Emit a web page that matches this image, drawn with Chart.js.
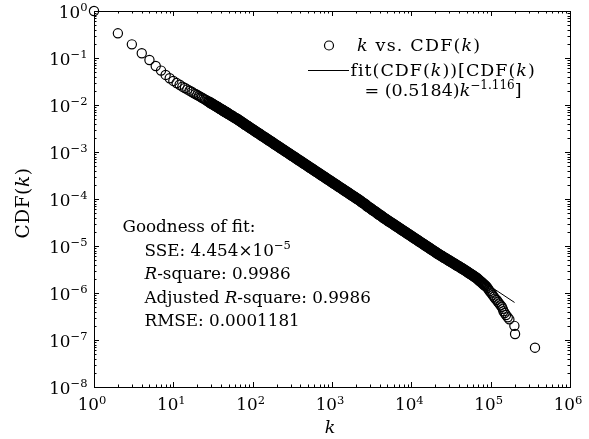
<!DOCTYPE html>
<html>
<head>
<meta charset="utf-8">
<script src="https://cdn.jsdelivr.net/npm/chart.js@4.4.1/dist/chart.umd.min.js"></script>
<style>
  html, body { margin: 0; padding: 0; background: #fff; }
  #wrap { width: 589px; height: 439px; }
</style>
</head>
<body>
<div id="wrap"><canvas id="cdfChart"></canvas></div>
<script>
// Degree k and complementary CDF, lowest degrees first
const headK = [1, 2, 3, 4, 5, 6, 7, 8, 9];
const headCdf = [1, 0.335, 0.195, 0.126, 0.0906, 0.0676, 0.054, 0.0436, 0.037];

const lowK = [10, 11, 12, 13, 14, 15, 16, 17, 18, 19, 20, 21, 22, 23, 24, 25, 26, 27, 28, 29,
  30, 31, 32, 33, 34, 35, 36, 37, 38, 39, 40, 41, 42, 43, 44, 45, 46, 47, 48, 49, 50,
  52, 54, 56, 58, 60];
const lowCdf = [0.0326, 0.0293, 0.0269, 0.0246, 0.02295, 0.0215, 0.0202, 0.0191, 0.0179, 0.0171,
  0.0163, 0.01563, 0.01484, 0.01429, 0.01363, 0.01317, 0.01261, 0.01209, 0.01174, 0.01129,
  0.01087, 0.0106, 0.01023, 0.00989, 0.00956, 0.00936, 0.00908, 0.0088, 0.00854, 0.0083,
  0.00816, 0.00794, 0.00773, 0.00753, 0.00734, 0.00716, 0.00706, 0.0069, 0.00674, 0.00658, 0.00644,
  0.00616, 0.00598, 0.00574, 0.00552, 0.00531];

const bandK = [62, 64, 66, 68, 70, 72, 74, 77, 79, 81,
  84, 87, 89, 92, 95, 98, 101, 104, 107, 111,
  114, 118, 122, 125, 129, 133, 138, 142, 146, 151,
  156, 160, 166, 171, 176, 182, 187, 193, 199, 205,
  212, 219, 225, 232, 240, 247, 255, 263, 271, 280,
  288, 297, 307, 316, 326, 337, 347, 358, 369, 381,
  393, 405, 418, 431, 444, 458, 473, 487, 503, 518,
  535, 551, 569, 586, 605, 624, 643, 664, 684, 706,
  728, 751, 774, 798, 823, 849, 876, 903, 932, 961,
  991, 1022, 1054, 1087, 1121, 1156, 1192, 1229, 1268, 1308,
  1349, 1391, 1435, 1480, 1527, 1574, 1624, 1674, 1727, 1781,
  1837, 1894, 1954, 2015, 2078, 2143, 2210, 2280, 2351, 2425,
  2501, 2578, 2660, 2743, 2829, 2918, 3009, 3103, 3200, 3301,
  3404, 3511, 3621, 3734, 3851, 3972, 4097, 4225, 4357, 4494,
  4635, 4779, 4930, 5085, 5243, 5408, 5577, 5751, 5932, 6118,
  6310, 6508, 6712, 6921, 7138, 7362, 7593, 7831, 8076, 8330,
  8591, 8860, 9137, 9424, 9719, 10023, 10336, 10665, 10991, 11340,
  11696, 12059, 12439, 12828, 13230, 13645, 14077, 14511, 14972, 15441,
  15924, 16425, 16934, 17468, 18015, 18578, 19158, 19761, 20382, 21017,
  21680, 22359, 23058, 23781, 24528, 25294, 26084, 26908, 27745, 28616,
  29510, 30438, 31390, 32375, 33387, 34433, 35513, 36629, 37776, 38955,
  40182, 41443, 42739, 44078, 45460, 46879, 48353, 49869, 51433, 53041,
  54700, 56413, 58183, 60012, 61890, 63835, 65830, 67893, 70017, 72209,
  74476, 76810, 79213, 81698, 84261];
const bandCdf = [5.188e-3, 5.012e-3, 4.842e-3, 4.677e-3, 4.519e-3, 4.365e-3, 4.217e-3, 4.074e-3, 3.936e-3, 3.802e-3,
  3.673e-3, 3.548e-3, 3.428e-3, 3.311e-3, 3.199e-3, 3.090e-3, 2.985e-3, 2.884e-3, 2.786e-3, 2.692e-3,
  2.600e-3, 2.512e-3, 2.427e-3, 2.344e-3, 2.265e-3, 2.188e-3, 2.113e-3, 2.042e-3, 1.972e-3, 1.905e-3,
  1.841e-3, 1.778e-3, 1.718e-3, 1.660e-3, 1.603e-3, 1.549e-3, 1.496e-3, 1.445e-3, 1.396e-3, 1.349e-3,
  1.303e-3, 1.259e-3, 1.216e-3, 1.175e-3, 1.135e-3, 1.096e-3, 1.059e-3, 1.023e-3, 9.886e-4, 9.550e-4,
  9.226e-4, 8.913e-4, 8.610e-4, 8.318e-4, 8.035e-4, 7.762e-4, 7.499e-4, 7.244e-4, 6.998e-4, 6.761e-4,
  6.531e-4, 6.310e-4, 6.095e-4, 5.888e-4, 5.689e-4, 5.495e-4, 5.309e-4, 5.129e-4, 4.955e-4, 4.786e-4,
  4.624e-4, 4.467e-4, 4.315e-4, 4.169e-4, 4.027e-4, 3.890e-4, 3.758e-4, 3.631e-4, 3.508e-4, 3.388e-4,
  3.273e-4, 3.162e-4, 3.055e-4, 2.951e-4, 2.851e-4, 2.754e-4, 2.661e-4, 2.570e-4, 2.483e-4, 2.399e-4,
  2.317e-4, 2.239e-4, 2.163e-4, 2.089e-4, 2.018e-4, 1.950e-4, 1.884e-4, 1.820e-4, 1.758e-4, 1.698e-4,
  1.641e-4, 1.585e-4, 1.531e-4, 1.479e-4, 1.429e-4, 1.380e-4, 1.334e-4, 1.288e-4, 1.245e-4, 1.202e-4,
  1.161e-4, 1.122e-4, 1.084e-4, 1.047e-4, 1.012e-4, 9.772e-5, 9.441e-5, 9.120e-5, 8.710e-5, 8.414e-5,
  8.128e-5, 7.852e-5, 7.586e-5, 7.161e-5, 6.918e-5, 6.683e-5, 6.457e-5, 6.237e-5, 5.957e-5, 5.754e-5,
  5.559e-5, 5.370e-5, 5.188e-5, 4.955e-5, 4.786e-5, 4.624e-5, 4.467e-5, 4.315e-5, 4.121e-5, 3.981e-5,
  3.846e-5, 3.715e-5, 3.589e-5, 3.428e-5, 3.350e-5, 3.236e-5, 3.126e-5, 3.020e-5, 2.917e-5, 2.818e-5,
  2.723e-5, 2.630e-5, 2.541e-5, 2.455e-5, 2.371e-5, 2.291e-5, 2.213e-5, 2.138e-5, 2.065e-5, 1.995e-5,
  1.928e-5, 1.862e-5, 1.799e-5, 1.738e-5, 1.679e-5, 1.622e-5, 1.567e-5, 1.514e-5, 1.462e-5, 1.413e-5,
  1.365e-5, 1.318e-5, 1.274e-5, 1.230e-5, 1.189e-5, 1.148e-5, 1.109e-5, 1.072e-5, 1.035e-5, 1.000e-5,
  9.661e-6, 9.333e-6, 9.016e-6, 8.710e-6, 8.414e-6, 8.128e-6, 7.852e-6, 7.586e-6, 7.328e-6, 7.079e-6,
  6.839e-6, 6.607e-6, 6.383e-6, 6.237e-6, 6.026e-6, 5.821e-6, 5.623e-6, 5.495e-6, 5.309e-6, 5.129e-6,
  4.955e-6, 4.842e-6, 4.677e-6, 4.519e-6, 4.365e-6, 4.266e-6, 4.121e-6, 3.981e-6, 3.846e-6, 3.758e-6,
  3.631e-6, 3.508e-6, 3.388e-6, 3.311e-6, 3.199e-6, 3.090e-6, 2.985e-6, 2.884e-6, 2.786e-6, 2.692e-6,
  2.600e-6, 2.512e-6, 2.427e-6, 2.344e-6, 2.265e-6, 2.188e-6, 2.113e-6, 2.018e-6, 1.928e-6, 1.841e-6,
  1.758e-6, 1.679e-6, 1.603e-6, 1.531e-6, 1.462e-6];

const tailK = [87000, 89000, 91500, 94000, 97000, 100000, 103000, 106000, 110000, 114000,
  119000, 123000, 128000, 133000, 138000, 142000, 145000, 150000, 156000, 164000,
  172000, 199000, 203000, 362000];
const tailCdf = [1.40e-6, 1.36e-6, 1.27e-6, 1.19e-6, 1.10e-6, 1.03e-6, 9.8e-7, 9.0e-7, 8.3e-7, 7.6e-7,
  7.1e-7, 6.5e-7, 6.0e-7, 5.5e-7, 5.1e-7, 4.6e-7, 4.1e-7, 3.75e-7, 3.4e-7, 3.05e-7,
  2.75e-7, 2.0e-7, 1.34e-7, 6.86e-8];

// Power-law fit CDF(k) = a * k^b over the fitted degree range
const fitA = 0.5184;
const fitB = -1.116;
const fitRange = [20, 200000];

const xDecades = [0, 1, 2, 3, 4, 5, 6];
const yDecades = [-8, -7, -6, -5, -4, -3, -2, -1, 0];

const gofLines = [
  [['Goodness of fit:', '']],
  [['SSE: 4.454\u00d710', ''], ['\u22125', 's']],
  [['R', 'i'], ['-square: 0.9986', '']],
  [['Adjusted ', ''], ['R', 'i'], ['-square: 0.9986', '']],
  [['RMSE: 0.0001181', '']]
];

const FONT = '"DejaVu Serif", serif';
const FS = 16.8;

function fontFor(style, size) {
  if (style === 'i') return 'italic ' + size + 'px ' + FONT;
  if (style === 's') return (size * 0.685).toFixed(1) + 'px ' + FONT;
  return size + 'px ' + FONT;
}

// Draws a run of text pieces (plain, italic, superscript) on one baseline
function drawRich(ctx, parts, x, y, align, size, spacing) {
  size = size || FS;
  ctx.letterSpacing = (spacing || 0) + 'px';
  const widths = parts.map(p => { ctx.font = fontFor(p[1], size); return ctx.measureText(p[0]).width; });
  const total = widths.reduce((s, w) => s + w, 0);
  let cx = align === 'center' ? x - total / 2 : align === 'right' ? x - total : x;
  ctx.textAlign = 'left';
  ctx.textBaseline = 'alphabetic';
  parts.forEach((p, i) => {
    ctx.font = fontFor(p[1], size);
    ctx.fillText(p[0], cx, p[1] === 's' ? y - size * 0.36 : y);
    cx += widths[i];
  });
  ctx.letterSpacing = '0px';
}

function powLabel(n) {
  return [['10', ''], [String(n).replace('-', '\u2212'), 's']];
}

const frameAndText = {
  id: 'frameAndText',
  afterDraw(chart) {
    const { ctx, chartArea: a } = chart;
    const xs = chart.scales.x, ys = chart.scales.y;
    ctx.save();
    ctx.strokeStyle = '#000';
    ctx.fillStyle = '#000';
    ctx.lineWidth = 1;
    ctx.strokeRect(a.left + 0.5, a.top + 0.5, a.right - a.left, a.bottom - a.top);

    // inward ticks on all four sides
    ctx.beginPath();
    xDecades.forEach(n => {
      for (let m = 1; m <= 9; m++) {
        if (m > 1 && n === xDecades[xDecades.length - 1]) break;
        const px = Math.round(xs.getPixelForValue(m * Math.pow(10, n))) + 0.5;
        const len = m === 1 ? 5 : 2.5;
        ctx.moveTo(px, a.bottom); ctx.lineTo(px, a.bottom - len);
        ctx.moveTo(px, a.top); ctx.lineTo(px, a.top + len);
      }
    });
    yDecades.forEach(n => {
      for (let m = 1; m <= 9; m++) {
        if (m > 1 && n === yDecades[yDecades.length - 1]) break;
        const py = Math.round(ys.getPixelForValue(m * Math.pow(10, n))) + 0.5;
        const len = m === 1 ? 5 : 2.5;
        ctx.moveTo(a.left, py); ctx.lineTo(a.left + len, py);
        ctx.moveTo(a.right, py); ctx.lineTo(a.right - len, py);
      }
    });
    ctx.stroke();

    // tick labels
    xDecades.forEach(n => {
      drawRich(ctx, powLabel(n), xs.getPixelForValue(Math.pow(10, n)) - 2, a.bottom + 23, 'center');
    });
    yDecades.forEach(n => {
      drawRich(ctx, powLabel(n), a.left - 6.5, ys.getPixelForValue(Math.pow(10, n)) + 6.5, 'right');
    });

    // axis titles
    drawRich(ctx, [['k', 'i']], 330, 433, 'center', 17.5);
    ctx.save();
    ctx.translate(29, 203);
    ctx.rotate(-Math.PI / 2);
    drawRich(ctx, [['CDF(', ''], ['k', 'i'], [')', '']], 0, 0, 'center', 18.5, 0.6);
    ctx.restore();

    // legend
    ctx.lineWidth = 1.2;
    ctx.beginPath();
    ctx.arc(329, 45.5, 4.5, 0, Math.PI * 2);
    ctx.stroke();
    drawRich(ctx, [['k', 'i'], [' vs. CDF(', ''], ['k', 'i'], [')', '']], 357, 50.5, 'left', 17.5, 1.2);
    ctx.lineWidth = 1;
    ctx.beginPath();
    ctx.moveTo(308, 70.5); ctx.lineTo(349, 70.5);
    ctx.stroke();
    drawRich(ctx, [['fit(CDF(', ''], ['k', 'i'], ['))[CDF(', ''], ['k', 'i'], [')', '']], 350.5, 76, 'left', 17.5, 1);
    drawRich(ctx, [['= (0.5184)', ''], ['k', 'i'], ['\u22121.116', 's'], [']', '']], 443, 95.5, 'center', 17.5);

    // goodness of fit block
    const gofY = [232, 255.5, 279, 302.5, 326];
    gofLines.forEach((line, i) => drawRich(ctx, line, i === 0 ? 122.5 : 144.5, gofY[i], 'left'));
    ctx.restore();
  }
};

const allK = headK.concat(lowK, bandK, tailK);
const allCdf = headCdf.concat(lowCdf, bandCdf, tailCdf);
const points = allK.map((k, i) => ({ x: k, y: allCdf[i] }));
const fitLine = fitRange.map(k => ({ x: k, y: fitA * Math.pow(k, fitB) }));

// where the markers pile up into a solid band, a heavier outline keeps it filled
function markerLine(c) {
  const k = c.raw ? c.raw.x : 1;
  return k >= 28 && k < 87000 ? 1.8 : 1.2;
}

const ctx = document.getElementById('cdfChart').getContext('2d');
new Chart(ctx, {
  type: 'scatter',
  data: {
    datasets: [
      {
        label: 'k vs. CDF(k)',
        data: points,
        pointStyle: 'circle',
        pointRadius: 4.6,
        pointBorderWidth: markerLine,
        pointBorderColor: '#000',
        pointBackgroundColor: 'rgba(0,0,0,0)',
        clip: false
      },
      {
        label: 'fit',
        data: fitLine,
        showLine: true,
        borderColor: '#000',
        borderWidth: 1,
        pointRadius: 0
      }
    ]
  },
  options: {
    responsive: true,
    maintainAspectRatio: false,
    animation: false,
    layout: { padding: { left: 94, right: 19, top: 11, bottom: 52 } },
    plugins: { legend: { display: false }, tooltip: { enabled: false } },
    scales: {
      x: { type: 'logarithmic', min: 1, max: 1e6, display: false },
      y: { type: 'logarithmic', min: 1e-8, max: 1, display: false }
    }
  },
  plugins: [frameAndText]
});
</script>
</body>
</html>
